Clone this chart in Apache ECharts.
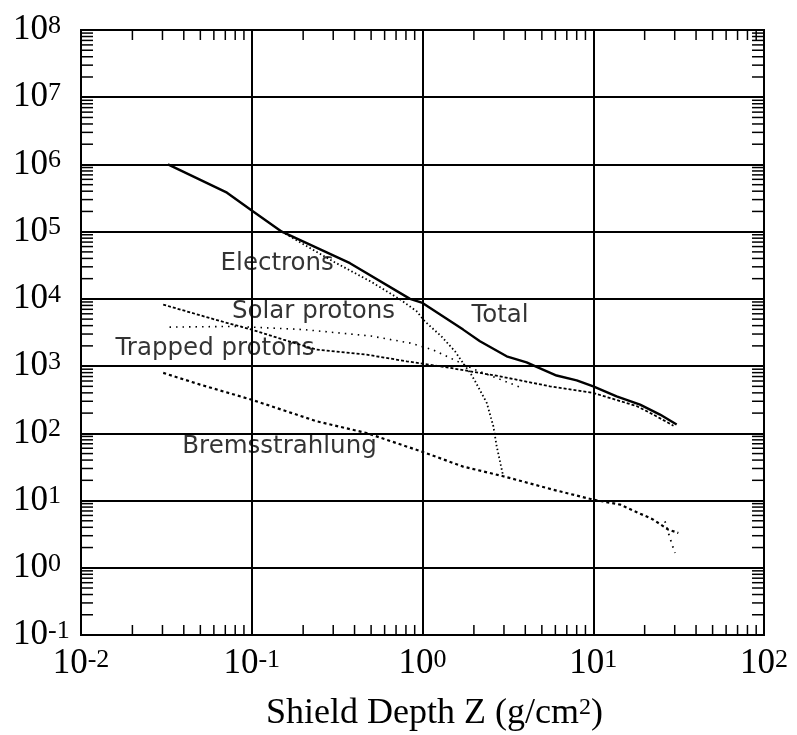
<!DOCTYPE html>
<html>
<head>
<meta charset="utf-8">
<script src="https://cdn.jsdelivr.net/npm/echarts@6/dist/echarts.min.js"></script>
<style>
  html, body { margin: 0; padding: 0; background: #fff; }
  #chart { width: 797px; height: 735px; }
</style>
</head>
<body>
<div id="chart"></div>
<script>
// ---- Data ----
const totalX = [0.0323, 0.0716, 0.1, 0.15, 0.376, 0.845, 1.0, 1.73, 2.17, 3.11, 4.07, 4.66, 6.1, 8.0, 10, 13.7, 18.8, 24.6, 30.8];
const totalY = [1e6, 3.8e5, 2.06e5, 1e5, 3.4e4, 1e4, 8700, 3490, 2340, 1400, 1140, 973, 724, 615, 500, 355, 267, 190, 135];

const electronsX = [0.15, 0.3, 0.5, 0.74, 0.925, 1.03, 1.29, 1.55, 1.77, 1.9, 2.03, 2.38, 2.6, 2.72, 2.97];
const electronsY = [1e5, 3.6e4, 1.8e4, 9800, 6530, 4650, 2770, 1660, 1016, 800, 600, 283, 127, 64, 23];

const trappedX = [0.0303, 0.065, 0.1, 0.153, 0.24, 0.471, 0.807, 1.45, 2.84, 5.58, 10, 17.9, 22.5, 29.5];
const trappedY = [8220, 4700, 3490, 2480, 1760, 1480, 1180, 940, 705, 500, 399, 255, 190, 130];

const solarX = [0.033, 0.08, 0.2, 0.5, 0.85, 1.15, 2.0, 3.7];
const solarY = [3800, 3900, 3500, 2800, 2200, 1750, 900, 490];

const bremsX = [0.0303, 0.0498, 0.1, 0.24, 0.471, 1.0, 1.73, 2.97, 5.83, 10, 14.4, 22.5, 27.5, 31.5];
const bremsY = [793, 531, 316, 151, 101, 53, 32, 23, 14.5, 10.3, 8.7, 5.2, 3.7, 3.3];

const bremsTailX = [26.3, 28.1, 30.1];
const bremsTailY = [4.9, 2.8, 1.66];

// curve labels (text placed at data coordinates)
const labelNames = ['Electrons', 'Solar protons', 'Trapped protons', 'Bremsstrahlung', 'Total'];
const labelX = [0.141, 0.230, 0.0609, 0.1454, 2.845];
const labelY = [33500, 6370, 1820, 62.4, 5650];

// axis decades (tick labels are 10^exponent)
const xExponents = [-2, -1, 0, 1, 2];
const yExponents = [-1, 0, 1, 2, 3, 4, 5, 6, 7, 8];
const minorMultipliers = [2, 3, 4, 5, 6, 7, 8, 9];

// ---- Build ----
function pairs(xs, ys) { return xs.map((x, i) => [x, ys[i]]); }

const minorData = [];
xExponents.slice(0, -1).forEach(e => minorMultipliers.forEach(m => minorData.push([m * Math.pow(10, e), 1, 0])));
yExponents.slice(0, -1).forEach(e => minorMultipliers.forEach(m => minorData.push([1, m * Math.pow(10, e), 1])));

function expLabel(v) {
  const e = Math.round(Math.log10(v));
  return '{b|10}{s|' + e + '}';
}
const labelRich = {
  b: { fontFamily: 'Liberation Serif', fontSize: 35, lineHeight: 34, color: '#000', fontWeight: 'normal' },
  s: { fontFamily: 'Liberation Serif', fontSize: 26, lineHeight: 20, verticalAlign: 'top', color: '#000', fontWeight: 'normal' }
};

const black = '#000';
const chart = echarts.init(document.getElementById('chart'), null, { renderer: 'canvas' });

const option = {
  backgroundColor: '#fff',
  animation: false,
  title: {
    text: '{a|Shield Depth Z (g/cm}{s|2}{a|)}',
    left: 266,
    top: 696,
    padding: 0,
    textStyle: {
      fontWeight: 'normal',
      rich: {
        a: { fontFamily: 'Liberation Serif', fontSize: 36, lineHeight: 35, color: '#000', fontWeight: 'normal' },
        s: { fontFamily: 'Liberation Serif', fontSize: 24, lineHeight: 20, verticalAlign: 'top', color: '#000', fontWeight: 'normal' }
      }
    }
  },
  grid: {
    left: 81, right: 33, top: 30, bottom: 100,
    show: true, borderColor: black, borderWidth: 2, containLabel: false
  },
  xAxis: {
    type: 'log', logBase: 10, min: 0.01, max: 100, splitNumber: 4,
    axisLine: { show: true, lineStyle: { color: black, width: 2 } },
    axisTick: { show: false },
    splitLine: { show: true, lineStyle: { color: '#000', width: 2 } },
    axisLabel: { margin: 12, formatter: expLabel, rich: labelRich, showMinLabel: true, showMaxLabel: true }
  },
  yAxis: {
    type: 'log', logBase: 10, min: 0.1, max: 1e8, splitNumber: 9,
    axisLine: { show: true, lineStyle: { color: black, width: 2 } },
    axisTick: { show: false },
    splitLine: { show: true, lineStyle: { color: '#000', width: 2 } },
    axisLabel: { margin: 68, align: 'left', formatter: expLabel, rich: labelRich, showMinLabel: true, showMaxLabel: true }
  },
  series: [
    {
      name: 'minor ticks', type: 'custom', silent: true, clip: false,
      encode: { x: 0, y: 1 },
      data: minorData,
      renderItem: function (params, api) {
        const cs = params.coordSys;
        const kind = api.value(2);
        const p = api.coord([api.value(0), api.value(1)]);
        const st = { stroke: '#000', lineWidth: 1.5 };
        if (kind === 0) {
          const b = cs.y + cs.height, t = cs.y;
          return { type: 'group', children: [
            { type: 'line', shape: { x1: p[0], y1: b, x2: p[0], y2: b - 10 }, style: st },
            { type: 'line', shape: { x1: p[0], y1: t, x2: p[0], y2: t + 10 }, style: st }
          ]};
        }
        const l = cs.x, r = cs.x + cs.width;
        return { type: 'group', children: [
          { type: 'line', shape: { x1: l, y1: p[1], x2: l + 12, y2: p[1] }, style: st },
          { type: 'line', shape: { x1: r, y1: p[1], x2: r - 12, y2: p[1] }, style: st }
        ]};
      }
    },
    {
      name: 'Total', type: 'line', showSymbol: false, symbol: 'none',
      data: pairs(totalX, totalY),
      lineStyle: { color: '#000', width: 2.4, type: 'solid' }, z: 5
    },
    {
      name: 'Electrons', type: 'line', showSymbol: false, symbol: 'none',
      data: pairs(electronsX, electronsY),
      lineStyle: { color: '#000', width: 1.8, type: [1.5, 2.5] }, z: 4
    },
    {
      name: 'Trapped protons', type: 'line', showSymbol: false, symbol: 'none',
      data: pairs(trappedX, trappedY),
      lineStyle: { color: '#000', width: 1.8, type: [3, 2] }, z: 4
    },
    {
      name: 'Solar protons', type: 'line', showSymbol: false, symbol: 'none',
      data: pairs(solarX, solarY),
      lineStyle: { color: '#000', width: 1.6, type: [1.5, 5] }, z: 4
    },
    {
      name: 'Bremsstrahlung', type: 'line', showSymbol: false, symbol: 'none',
      data: pairs(bremsX, bremsY),
      lineStyle: { color: '#000', width: 2.2, type: [3, 3] }, z: 4
    },
    {
      name: 'Bremsstrahlung tail', type: 'line', showSymbol: false, symbol: 'none',
      data: pairs(bremsTailX, bremsTailY),
      lineStyle: { color: '#000', width: 1.8, type: [1.5, 5] }, z: 4
    },
    {
      name: 'labels', type: 'scatter', symbolSize: 0, silent: true, z: 6,
      data: labelNames.map((n, i) => ({ name: n, value: [labelX[i], labelY[i]] })),
      label: {
        show: true, position: 'inside', formatter: '{b}',
        fontFamily: 'DejaVu Sans', fontSize: 24.5, color: '#000',
        align: 'center', verticalAlign: 'middle'
      }
    }
  ]
};
chart.setOption(option);
</script>
</body>
</html>
